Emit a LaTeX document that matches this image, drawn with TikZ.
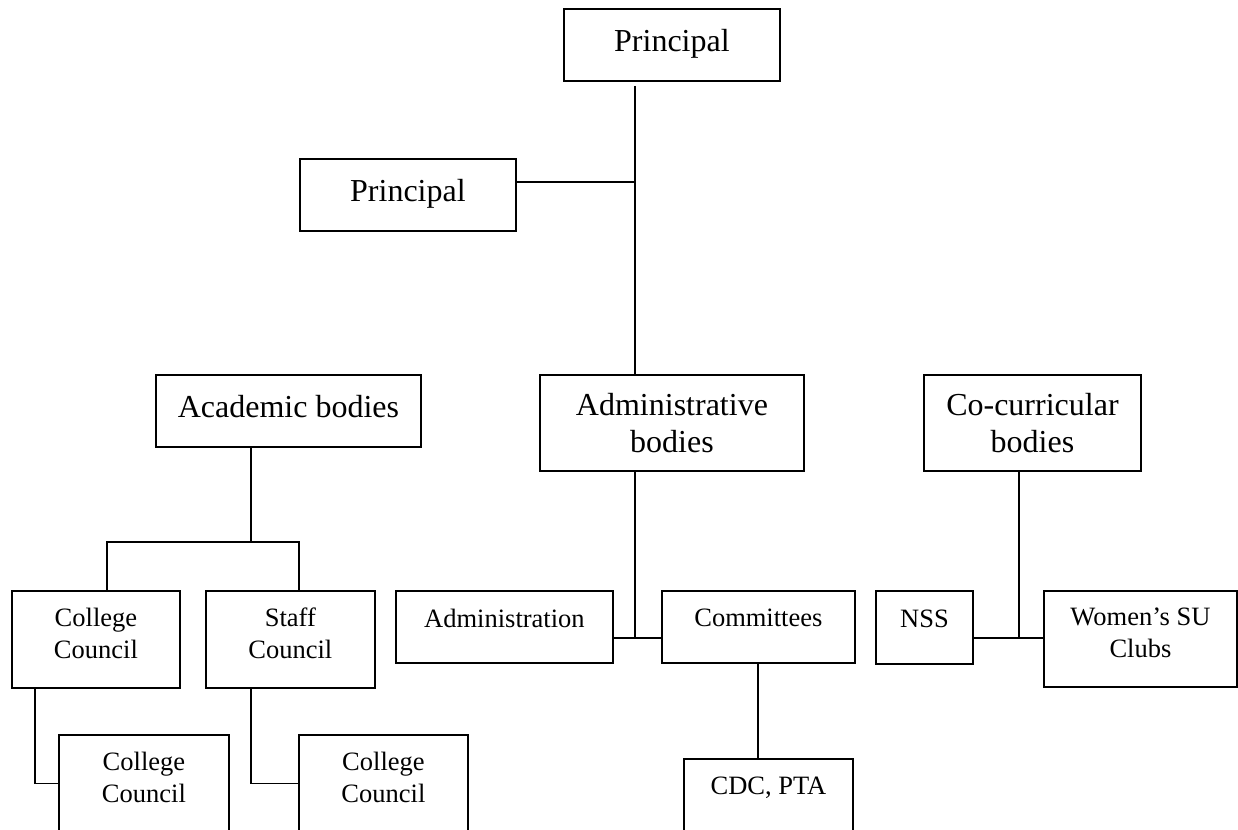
\documentclass[tikz,border=0pt]{standalone}
\usepackage{fontspec}
\setmainfont{Liberation Serif}
\usetikzlibrary{positioning}

\newcommand{\lowstrut}[1]{\rule[-#1]{0pt}{#1}}

\begin{document}
\begin{tikzpicture}[x=1pt,y=-1pt,line width=1.9pt,
		bigbox/.style={draw,anchor=north west,inner sep=0pt,align=center,font=\fontsize{32}{37}\selectfont},
		smallbox/.style={draw,anchor=north west,inner sep=0pt,align=center,font=\fontsize{26.5}{32}\selectfont}]
		\useasboundingbox (0,0) rectangle (1238,829);

		\node[bigbox,minimum width=216,minimum height=72,text depth=10pt]		(prin)	at (563,8)		{Principal};
		\node[bigbox,minimum width=216,minimum height=72,text depth=10pt]		(prin2)	at (299,158)	{Principal};
		\node[bigbox,minimum width=265,minimum height=72,text depth=10pt]		(acad)	at (155,374)	{Academic bodies};
		\node[bigbox,minimum width=264,minimum height=96]						(admb)	at (539,374)	{Administrative\\bodies};
		\node[bigbox,minimum width=217,minimum height=96]						(cocu)	at (923,374)	{Co-curricular\\bodies};

		\node[smallbox,minimum width=168,minimum height=97]						(cc1)	at (11,590)		{College\\Council\lowstrut{13pt}};
		\node[smallbox,minimum width=169,minimum height=97,right=24pt of cc1]	(sc)					{Staff\\Council\lowstrut{13pt}};
		\node[smallbox,minimum width=217,minimum height=72,text depth=18pt]		(adm)	at (395,590)	{Administration};
		\node[smallbox,minimum width=193,minimum height=72,text depth=18pt,right=47pt of adm]	(com)	{Committees};
		\node[smallbox,minimum width=97,minimum height=73,text depth=18pt]		(nss)	at (875,590)	{NSS};
		\node[smallbox,minimum width=193,minimum height=96]						(wsu)	at (1043,590)	{Women’s SU\\Clubs\lowstrut{13pt}};

		\node[smallbox,minimum width=170,minimum height=97]						(cc2)	at (58,734)		{College\\Council\lowstrut{13pt}};
		\node[smallbox,minimum width=169,minimum height=97]						(cc3)	at (298,734)	{College\\Council\lowstrut{13pt}};
		\node[smallbox,minimum width=169,minimum height=72,text depth=18pt]		(cdc)	at (683,758)	{CDC, PTA};

		% junctions
		\coordinate (pj1) at (635,86);
		\coordinate (pj2) at (635,182);
		\coordinate (acj) at (251,542);
		\coordinate (acl) at (107,542);
		\coordinate (acr) at (299,542);
		\coordinate (adj) at (635,638);
		\coordinate (coj) at (1019,638);
		\coordinate (cl1) at (35,0);
		\coordinate (cl2) at (251,0);

		\draw (pj1) -- (pj1 |- admb.north);
		\draw (prin2.east |- pj2) -- (pj2);
		\draw (acj |- acad.south) -- (acj);
		\draw (acl |- cc1.north) -- (acl) -- (acr) -- (acr |- sc.north);
		\draw (adj |- admb.south) -- (adj);
		\draw (adj -| adm.east) -- (adj -| com.west);
		\draw (com.south) -- (com.south |- cdc.north);
		\draw (coj |- cocu.south) -- (coj);
		\draw (coj -| nss.east) -- (coj -| wsu.west);
		\draw (cl1 |- cc1.south) |- (cc2.west);
		\draw (cl2 |- sc.south) |- (cc3.west);
	\end{tikzpicture}
\end{document}
